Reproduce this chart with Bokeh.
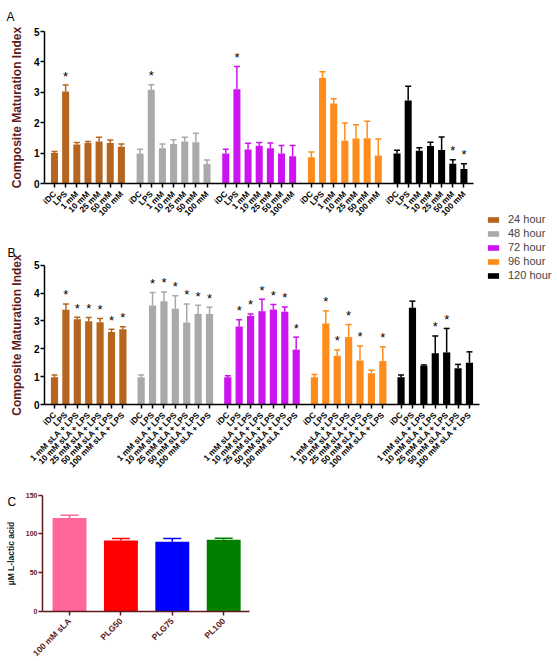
import math
from bokeh.plotting import figure
from bokeh.models import (FixedTicker, Range1d, Whisker, TeeHead, ColumnDataSource,
                          Legend, LegendItem, Label, LinearAxis)
from bokeh.core.properties import value
from bokeh.embed import file_html
from bokeh.resources import INLINE

FONT = "Liberation Sans"
MAROON = "#5E1B1B"

# ---------------- data ----------------
groups = ["24 hour", "48 hour", "72 hour", "96 hour", "120 hour"]
group_colors = ["#B5651D", "#A9A9AB", "#CC14F0", "#FF8C1A", "#000000"]

labels_a = ["iDC", "LPS", "1 mM", "10 mM", "25 mM", "50 mM", "100 mM"]
means_a = [
    [1.00, 3.03, 1.28, 1.33, 1.38, 1.33, 1.21],
    [0.99, 3.08, 1.16, 1.30, 1.38, 1.36, 0.64],
    [0.99, 3.10, 1.12, 1.24, 1.16, 0.99, 0.90],
    [0.86, 3.47, 2.63, 1.41, 1.48, 1.49, 0.92],
    [0.99, 2.73, 1.08, 1.23, 1.10, 0.65, 0.48],
]
errs_a = [
    [0.05, 0.21, 0.07, 0.05, 0.14, 0.10, 0.09],
    [0.14, 0.17, 0.14, 0.14, 0.14, 0.29, 0.13],
    [0.14, 0.75, 0.20, 0.11, 0.17, 0.26, 0.35],
    [0.18, 0.21, 0.16, 0.58, 0.45, 0.56, 0.54],
    [0.10, 0.47, 0.10, 0.13, 0.43, 0.13, 0.17],
]
sig_a = [
    [0, 1, 0, 0, 0, 0, 0],
    [0, 1, 0, 0, 0, 0, 0],
    [0, 1, 0, 0, 0, 0, 0],
    [0, 0, 0, 0, 0, 0, 0],
    [0, 0, 0, 0, 0, 1, 1],
]

labels_b = ["iDC", "LPS", "1 mM sLA + LPS", "10 mM sLA + LPS", "25 mM sLA + LPS",
            "50 mM sLA + LPS", "100 mM sLA + LPS"]
means_b = [
    [0.98, 3.40, 3.06, 2.99, 2.95, 2.60, 2.70],
    [0.98, 3.55, 3.71, 3.44, 2.94, 3.25, 3.25],
    [0.98, 2.80, 3.18, 3.35, 3.41, 3.33, 1.97],
    [0.98, 2.91, 1.75, 2.42, 1.58, 1.12, 1.56],
    [0.98, 3.47, 1.39, 1.84, 1.87, 1.30, 1.50],
]
errs_b = [
    [0.08, 0.21, 0.07, 0.13, 0.14, 0.10, 0.09],
    [0.08, 0.47, 0.33, 0.46, 0.67, 0.31, 0.24],
    [0.05, 0.24, 0.07, 0.43, 0.18, 0.17, 0.45],
    [0.10, 0.45, 0.21, 0.45, 0.52, 0.11, 0.51],
    [0.08, 0.24, 0.03, 0.62, 0.86, 0.14, 0.39],
]
sig_b = [
    [0, 1, 1, 1, 1, 1, 1],
    [0, 1, 1, 1, 1, 1, 1],
    [0, 1, 1, 1, 1, 1, 1],
    [0, 1, 1, 1, 1, 0, 1],
    [0, 0, 0, 1, 1, 0, 0],
]

labels_c = ["100 mM sLA", "PLG50", "PLG75", "PL100"]
means_c = [120.5, 91.5, 90.0, 92.5]
errs_c = [3.5, 2.5, 4.0, 2.0]
colors_c = ["#FF6699", "#FF0000", "#0000FF", "#008000"]

y_ticks_ab = [0, 1, 2, 3, 4, 5]
y_ticks_c = [0, 50, 100, 150]

# ---------------- layout helpers (pixel placement of each panel) ----------------
W, H = 557, 661


def x_range_for(px0, step, size=W):
    # value 0 sits at page x px0, one unit = step px
    return Range1d(-px0 / step, (size - px0) / step)


def y_range_for(py0, py1, v1, size=H):
    # value 0 at page y py0, value v1 at page y py1 (page y grows downwards)
    s = v1 / (py0 - py1)
    return Range1d(-(size - py0) * s, py0 * s)


p = figure(width=W, height=H, output_backend="svg", toolbar_location=None,
           x_range=Range1d(0, W), y_range=Range1d(0, H),
           x_axis_location=None, y_axis_location=None, min_border=0, title=None)
p.xgrid.grid_line_color = None
p.ygrid.grid_line_color = None
p.outline_line_color = None

PANELS = {
    "a": dict(px0=54, step=11.15, gap=7.68, py0=183, py1=31, axis_px=44, axis_end_px=473),
    "b": dict(px0=54, step=11.4, gap=7.6, py0=404, py1=264.7, axis_px=44, axis_end_px=479),
    "c": dict(px0=69, step=51.4, py0=611, py1=494.7, axis_px=42, axis_end_px=249),
}
p.extra_x_ranges = {k: x_range_for(v["px0"], v["step"]) for k, v in PANELS.items()}
p.extra_y_ranges = {
    "a": y_range_for(PANELS["a"]["py0"], PANELS["a"]["py1"], 5),
    "b": y_range_for(PANELS["b"]["py0"], PANELS["b"]["py1"], 5),
    "c": y_range_for(PANELS["c"]["py0"], PANELS["c"]["py1"], 150),
}


def style_axis(ax, color, label_color, size):
    ax.axis_line_color = color
    ax.axis_line_width = 1.5
    ax.major_tick_line_color = color
    ax.major_tick_line_width = 1.5
    ax.major_tick_out = 4
    ax.major_tick_in = 0
    ax.minor_tick_line_color = None
    ax.major_label_text_font = FONT
    ax.major_label_text_font_style = "bold"
    ax.major_label_text_color = label_color
    ax.major_label_text_font_size = size
    ax.axis_label_text_font = FONT
    ax.axis_label_text_font_style = "bold"


def grouped_panel(key, labels, means, errs, sigs, ylabel, xfont, xstandoff):
    cfg = PANELS[key]
    gap = cfg["gap"]
    ticks, overrides, renderers = [], {}, []
    for g, (m, e, s) in enumerate(zip(means, errs, sigs)):
        xs = [g * gap + i for i in range(len(m))]
        for xv, lab in zip(xs, labels):
            ticks.append(xv)
            overrides[xv] = lab
        src = ColumnDataSource(dict(x=xs, top=m, upper=[a + b for a, b in zip(m, e)]))
        r = p.vbar(x="x", top="top", width=0.63, source=src, fill_color=group_colors[g],
                   line_color=None, x_range_name=key, y_range_name=key)
        renderers.append(r)
        p.add_layout(Whisker(source=src, base="x", lower="top", upper="upper",
                             line_color=group_colors[g], line_width=1.5,
                             upper_head=TeeHead(size=6, line_color=group_colors[g], line_width=1.5),
                             lower_head=None, x_range_name=key, y_range_name=key))
        sx = [xv for xv, f in zip(xs, s) if f]
        sy = [a + b for a, b, f in zip(m, e, s) if f]
        if sx:
            p.text(x=sx, y=sy, text=["*"] * len(sx), text_font=value(FONT),
                   text_font_size="13px", text_align="center",
                   text_baseline="alphabetic", y_offset=-9, text_color="black",
                   x_range_name=key, y_range_name=key)
    x_axis_val = (cfg["axis_px"] - cfg["px0"]) / cfg["step"]
    x_end_val = (cfg["axis_end_px"] - cfg["px0"]) / cfg["step"]
    xax = LinearAxis(x_range_name=key, y_range_name=key, fixed_location=0,
                     bounds=(x_axis_val, x_end_val), ticker=FixedTicker(ticks=ticks),
                     major_label_overrides=overrides,
                     major_label_orientation=math.pi / 4, major_label_standoff=xstandoff)
    style_axis(xax, "black", "black", xfont)
    p.add_layout(xax, "below")
    yax = LinearAxis(x_range_name=key, y_range_name=key, fixed_location=x_axis_val,
                     bounds=(0, 5), ticker=FixedTicker(ticks=y_ticks_ab),
                     major_label_standoff=1, axis_label=ylabel, axis_label_standoff=7)
    style_axis(yax, "black", "black", "10px")
    yax.axis_label_text_font_size = "12px"
    yax.axis_label_text_color = MAROON
    p.add_layout(yax, "left")
    return renderers


# ---------------- panel A ----------------
grouped_panel("a", labels_a, means_a, errs_a, sig_a, "Composite Maturation Index", "8.3px", 5)

# ---------------- panel B ----------------
rendB = grouped_panel("b", labels_b, means_b, errs_b, sig_b, "Composite Maturation Index",
                      "8.3px", 5)
legend = Legend(items=[LegendItem(label=g, renderers=[r]) for g, r in zip(groups, rendB)],
                location=(486, 380), orientation="vertical",
                glyph_width=14, glyph_height=7, label_height=11, spacing=2,
                padding=0, margin=0, label_standoff=8,
                label_text_font=FONT, label_text_font_size="11px",
                border_line_color=None, background_fill_alpha=0)
p.add_layout(legend)

# ---------------- panel C ----------------
cfg = PANELS["c"]
xs_c = list(range(len(labels_c)))
srcC = ColumnDataSource(dict(x=xs_c, top=means_c,
                             upper=[a + b for a, b in zip(means_c, errs_c)], color=colors_c))
p.vbar(x="x", top="top", width=0.66, source=srcC, fill_color="color", line_color=None,
       x_range_name="c", y_range_name="c")
for xv, m, e, c in zip(xs_c, means_c, errs_c, colors_c):
    s = ColumnDataSource(dict(x=[xv], top=[m], upper=[m + e]))
    p.add_layout(Whisker(source=s, base="x", lower="top", upper="upper",
                         line_color=c, line_width=1.5,
                         upper_head=TeeHead(size=18, line_color=c, line_width=1.5),
                         lower_head=None, x_range_name="c", y_range_name="c"))
xc_axis = (cfg["axis_px"] - cfg["px0"]) / cfg["step"]
xc_end = (cfg["axis_end_px"] - cfg["px0"]) / cfg["step"]
xaxC = LinearAxis(x_range_name="c", y_range_name="c", fixed_location=0, bounds=(xc_axis, xc_end),
                  ticker=FixedTicker(ticks=xs_c),
                  major_label_overrides={xv: lab for xv, lab in zip(xs_c, labels_c)},
                  major_label_orientation=math.pi / 4, major_label_standoff=4)
style_axis(xaxC, MAROON, MAROON, "8.5px")
p.add_layout(xaxC, "below")
yaxC = LinearAxis(x_range_name="c", y_range_name="c", fixed_location=xc_axis, bounds=(0, 150),
                  ticker=FixedTicker(ticks=y_ticks_c), major_label_standoff=1,
                  axis_label="\u00b5M L-lactic acid", axis_label_standoff=7)
style_axis(yaxC, MAROON, MAROON, "7px")
yaxC.axis_label_text_font_size = "8.5px"
yaxC.axis_label_text_color = "#222222"
p.add_layout(yaxC, "left")

# ---------------- panel letters ----------------
for letter, lx, ly in [("A", 6, H - 16), ("B", 7, H - 252), ("C", 7, H - 501)]:
    p.add_layout(Label(x=lx, y=ly, x_units="screen", y_units="screen", text=letter,
                       text_font=FONT, text_font_size="12px", text_color="black",
                       text_baseline="alphabetic"))

open("out.html", "w").write(file_html(p, INLINE))
